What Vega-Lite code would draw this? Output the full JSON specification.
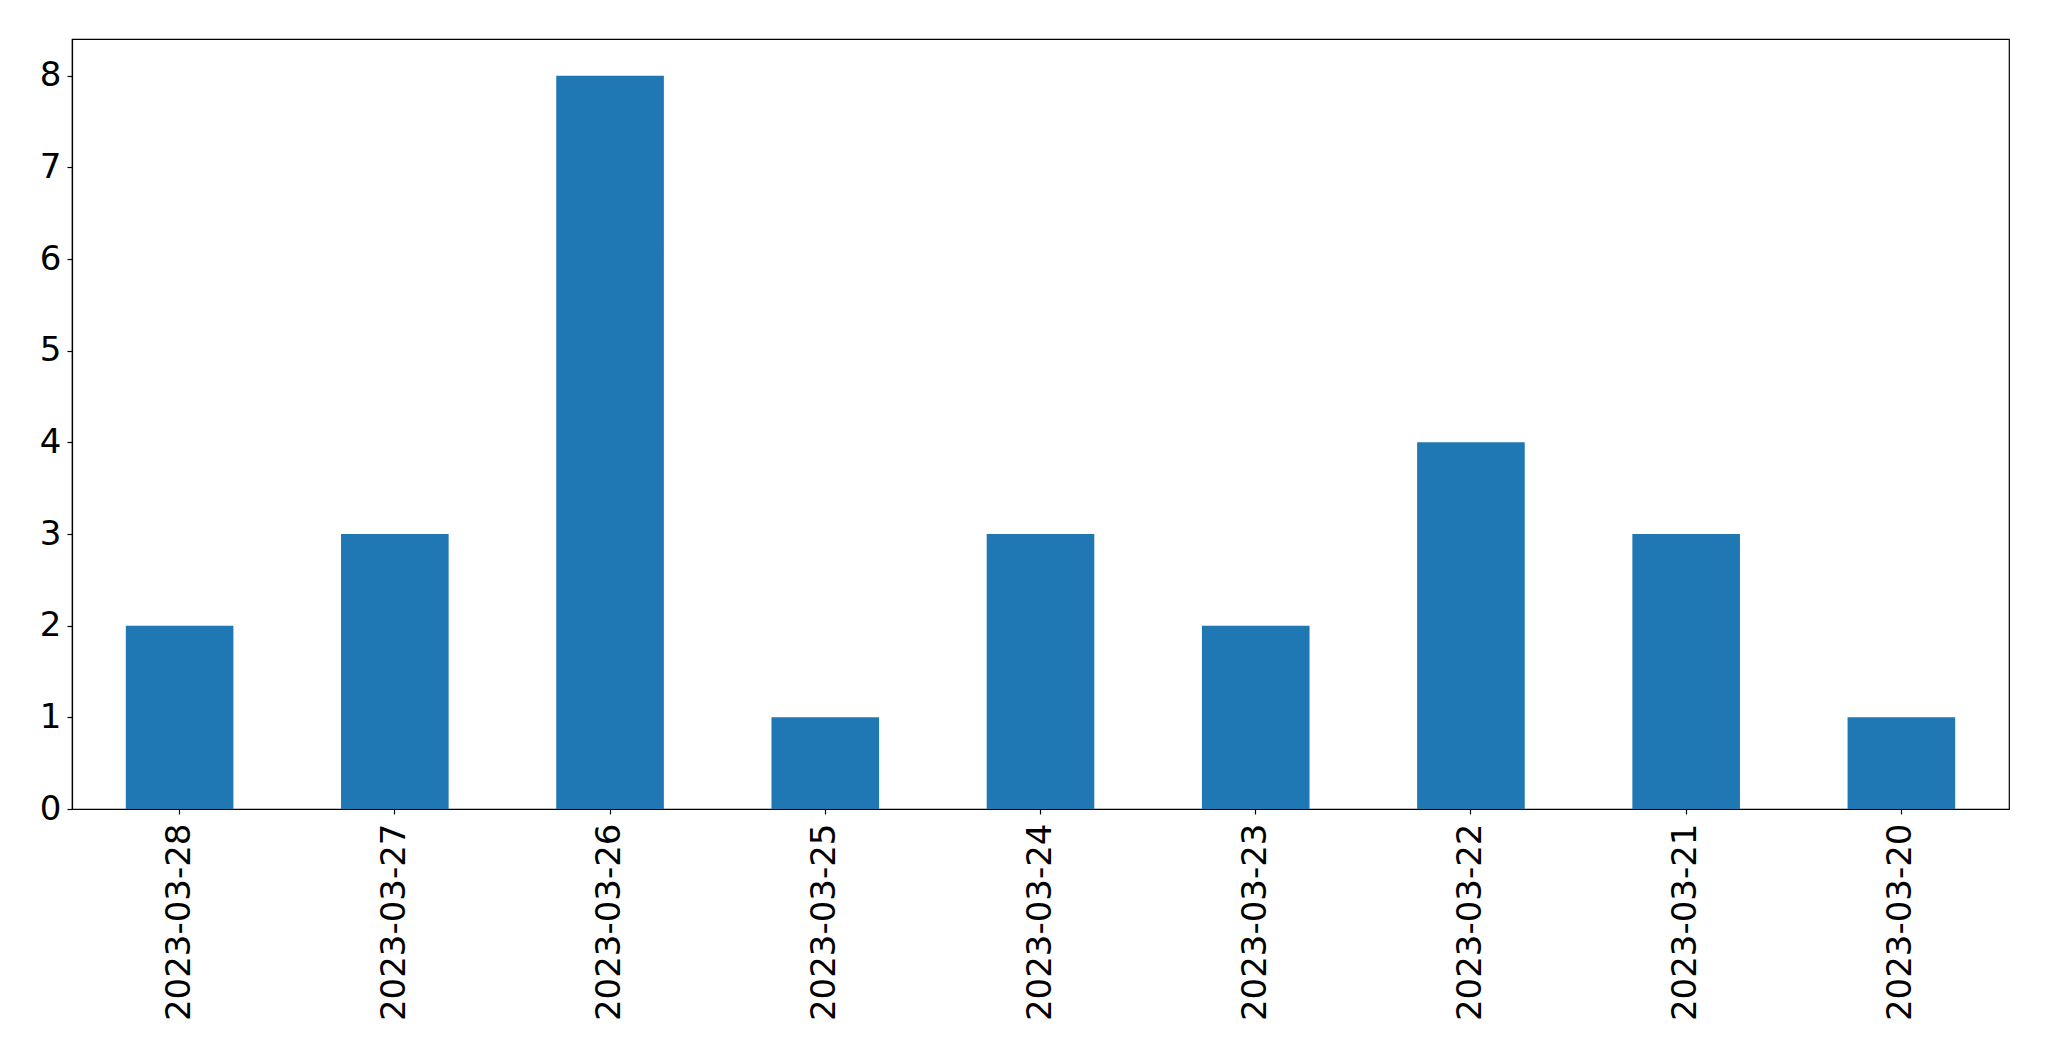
{
  "$schema": "https://vega.github.io/schema/vega-lite/v6.json",
  "autosize": {"type": "none"},
  "width": 1937,
  "height": 770,
  "padding": {"left": 72, "top": 39, "right": 40, "bottom": 252},
  "background": "white",
  "config": {
    "view": {"stroke": "black", "strokeWidth": 1.2},
    "axis": {
      "domainColor": "black",
      "domainWidth": 1.2,
      "tickColor": "black",
      "tickWidth": 1.2,
      "tickSize": 5,
      "labelFont": "DejaVu Sans",
      "labelFontSize": 34,
      "labelColor": "black",
      "labelLimit": 0,
      "grid": false,
      "title": null
    }
  },
  "data": {
    "values": [
      {"date": "2023-03-28", "count": 2},
      {"date": "2023-03-27", "count": 3},
      {"date": "2023-03-26", "count": 8},
      {"date": "2023-03-25", "count": 1},
      {"date": "2023-03-24", "count": 3},
      {"date": "2023-03-23", "count": 2},
      {"date": "2023-03-22", "count": 4},
      {"date": "2023-03-21", "count": 3},
      {"date": "2023-03-20", "count": 1}
    ]
  },
  "mark": {"type": "bar", "color": "#1f77b4"},
  "encoding": {
    "x": {
      "field": "date",
      "type": "ordinal",
      "sort": null,
      "scale": {"paddingInner": 0.5, "paddingOuter": 0.25},
      "axis": {"labelAngle": -90, "labelPadding": 9, "title": null}
    },
    "y": {
      "field": "count",
      "type": "quantitative",
      "scale": {"domain": [0, 8.4], "nice": false},
      "axis": {"values": [0, 1, 2, 3, 4, 5, 6, 7, 8], "labelPadding": 6, "title": null}
    }
  }
}
